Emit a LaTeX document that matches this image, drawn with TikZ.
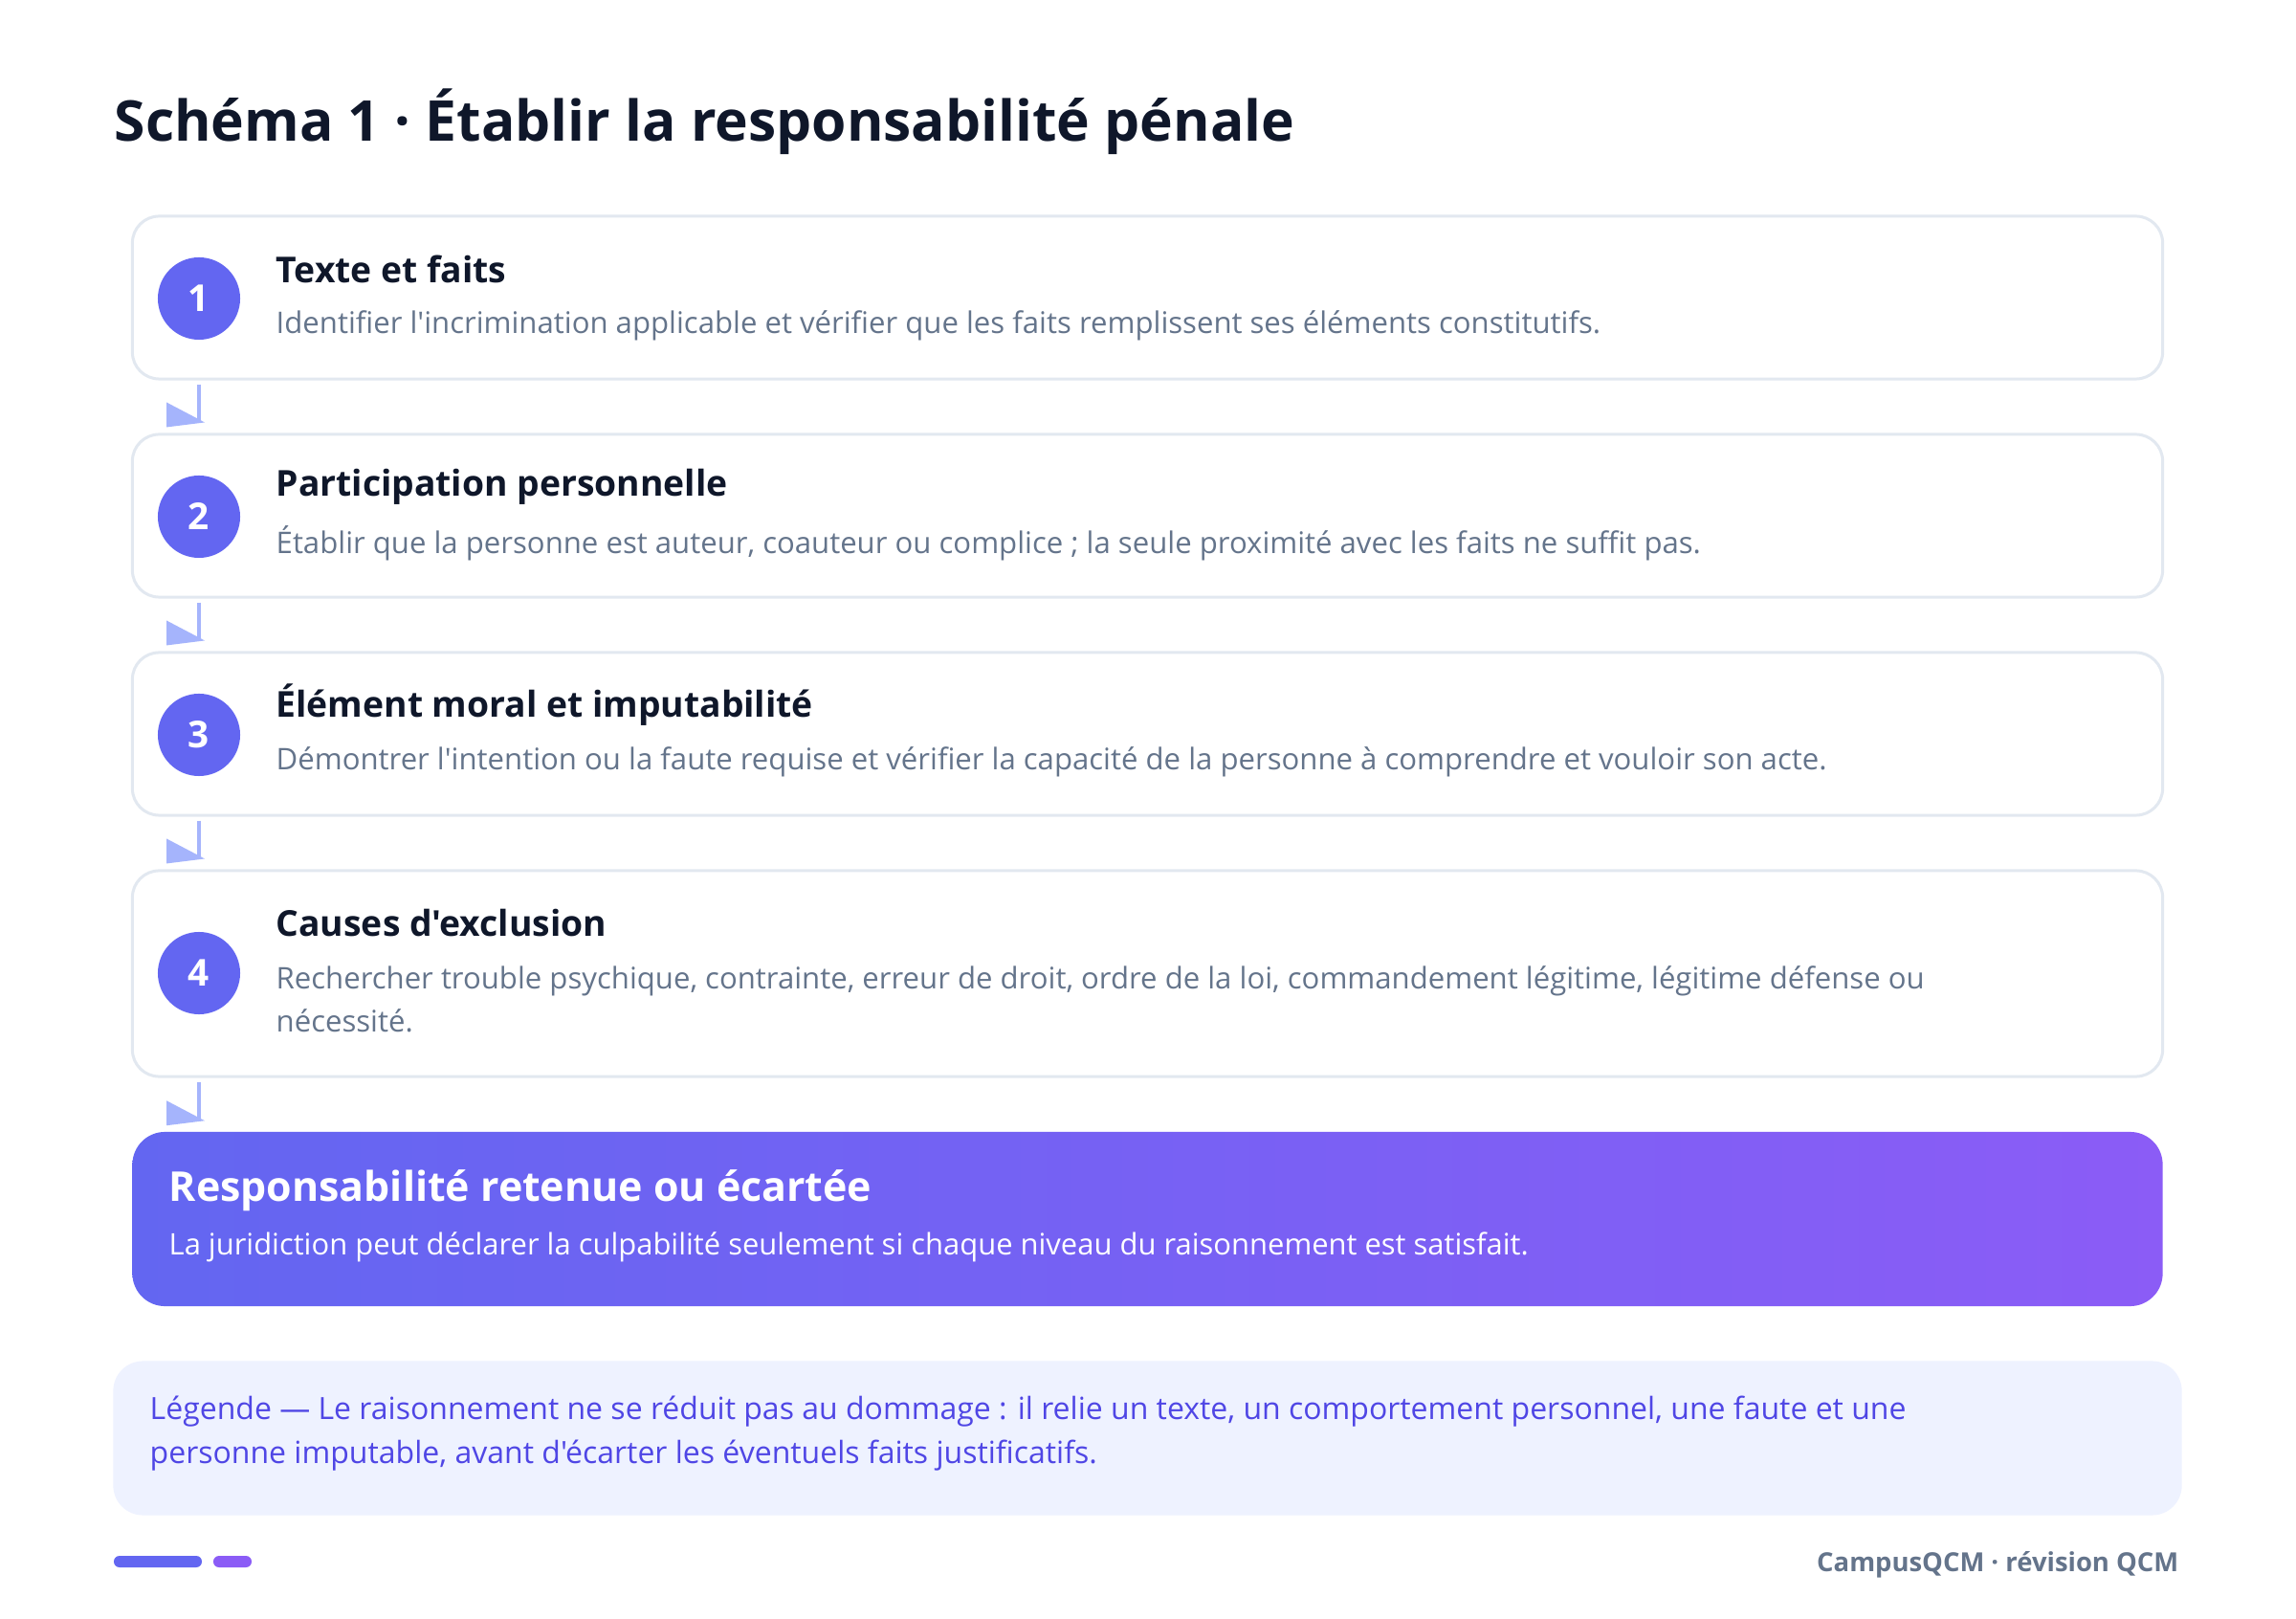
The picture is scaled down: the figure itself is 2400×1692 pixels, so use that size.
\documentclass[tikz,border=0pt]{standalone}
\usepackage{fontspec}
\setmainfont{Open Sans}[Ligatures=TeXOff]
\usetikzlibrary{calc}
\definecolor{ink}{HTML}{0F172A}
\definecolor{muted}{HTML}{64748B}
\definecolor{edge}{HTML}{E2E8F0}
\definecolor{indigo}{HTML}{6366F1}
\definecolor{violet}{HTML}{8B5CF6}
\definecolor{flow}{HTML}{A5B4FC}
\definecolor{legendbg}{HTML}{EEF2FF}
\definecolor{legendink}{HTML}{4F46E5}
\tikzset{
  card/.style={draw=edge, line width=0.85pt, fill=white, rounded corners=0.28cm, minimum width=21.21cm},
  badge/.style={circle, fill=indigo, minimum size=0.86cm, inner sep=0pt, text=white, font=\bfseries\fontsize{11}{13}\selectfont},
  head/.style={anchor=west, inner sep=0pt, text=ink, font=\bfseries\fontsize{10.6}{12}\selectfont},
  desc/.style={anchor=west, inner sep=0pt, text=muted, font=\fontsize{8.85}{12.8}\selectfont, align=left},
  flowline/.style={draw=flow, line width=1.4pt},
  flowtip/.style={fill=flow},
  verdictbox/.style={left color=indigo, right color=violet, rounded corners=0.34cm, minimum width=21.21cm, minimum height=1.82cm},
}
\begin{document}
\begin{tikzpicture}[x=0.01cm, y=-0.01cm]
  \useasboundingbox[fill=white] (0,0) rectangle (2400,1692);
  \node[anchor=base west, inner sep=0pt, text=ink, font=\bfseries\fontsize{16.7}{19}\selectfont] (title) at (119,148) {Schéma 1 · Établir la responsabilité pénale};

  \node[card, minimum height=1.70cm] (box1) at (1199.5,311) {};
  \node[card, minimum height=1.70cm] (box2) at (1199.5,539) {};
  \node[card, minimum height=1.70cm] (box3) at (1199.5,767) {};
  \node[card, minimum height=2.15cm] (box4) at (1199.5,1017.5) {};
  \node[verdictbox] (verdict) at (1199.5,1274) {};

  \node[badge] (num1) at (208,312) {1};
  \node[badge] (num2) at (208,540) {2};
  \node[badge] (num3) at (208,768) {3};
  \node[badge] (num4) at (208,1017) {4};

  \node[head] (head1) at (288,281) {Texte et faits};
  \node[desc] (desc1) at (288,340) {Identifier l'incrimination applicable et vérifier que les faits remplissent ses éléments constitutifs.};
  \node[head] (head2) at (288,509) {Participation personnelle};
  \node[desc] (desc2) at (288,568) {Établir que la personne est auteur, coauteur ou complice ; la seule proximité avec les faits ne suffit pas.};
  \node[head] (head3) at (288,737) {Élément moral et imputabilité};
  \node[desc] (desc3) at (288,796) {Démontrer l'intention ou la faute requise et vérifier la capacité de la personne à comprendre et vouloir son acte.};
  \node[head] (head4) at (288,965) {Causes d'exclusion};
  \node[desc] (desc4) at (288,1044) {Rechercher trouble psychique, contrainte, erreur de droit, ordre de la loi, commandement légitime, légitime défense ou\\nécessité.};

  \node[anchor=west, inner sep=0pt, text=white, font=\bfseries\fontsize{12.2}{14}\selectfont] (verdicthead) at (176,1244) {Responsabilité retenue ou écartée};
  \node[anchor=west, inner sep=0pt, text=white, font=\fontsize{8.8}{12}\selectfont] (verdictdesc) at (176,1303) {La juridiction peut déclarer la culpabilité seulement si chaque niveau du raisonnement est satisfait.};

  \begin{scope}
    \draw[flowline] ($(box1.south -| num1)+(0,4)$) -- ($(box2.north -| num1)+(0,-11)$);
    \fill[flowtip] ($(box2.north -| num1)+(-34,-32)$) -- ++(0,26) -- ++(40,-5) -- cycle;
    \draw[flowline] ($(box2.south -| num1)+(0,4)$) -- ($(box3.north -| num1)+(0,-11)$);
    \fill[flowtip] ($(box3.north -| num1)+(-34,-32)$) -- ++(0,26) -- ++(40,-5) -- cycle;
    \draw[flowline] ($(box3.south -| num1)+(0,4)$) -- ($(box4.north -| num1)+(0,-11)$);
    \fill[flowtip] ($(box4.north -| num1)+(-34,-32)$) -- ++(0,26) -- ++(40,-5) -- cycle;
    \draw[flowline] ($(box4.south -| num1)+(0,4)$) -- ($(verdict.north -| num1)+(0,-11)$);
    \fill[flowtip] ($(verdict.north -| num1)+(-34,-32)$) -- ++(0,26) -- ++(40,-5) -- cycle;
  \end{scope}

  \node[fill=legendbg, rounded corners=0.31cm, minimum width=21.61cm, minimum height=1.61cm] (legend) at (1199.5,1503) {};
  \node[anchor=west, inner sep=0pt, text=legendink, align=left, font=\fontsize{9.1}{13.1}\selectfont] (legendtext) at (156,1498) {Légende — Le raisonnement ne se réduit pas au dommage : il relie un texte, un comportement personnel, une faute et une\\personne imputable, avant d'écarter les éventuels faits justificatifs.};

  \node[fill=indigo, rounded corners=0.06cm, minimum width=0.92cm, minimum height=0.12cm, inner sep=0pt] (bar1) at (165,1632) {};
  \node[fill=violet, rounded corners=0.06cm, minimum width=0.40cm, minimum height=0.12cm, inner sep=0pt] (bar2) at (243,1632) {};
  \node[anchor=east, inner sep=0pt, text=muted, font=\bfseries\fontsize{7.8}{10}\selectfont] (footer) at (2278,1635) {CampusQCM · révision QCM};
\end{tikzpicture}
\end{document}
